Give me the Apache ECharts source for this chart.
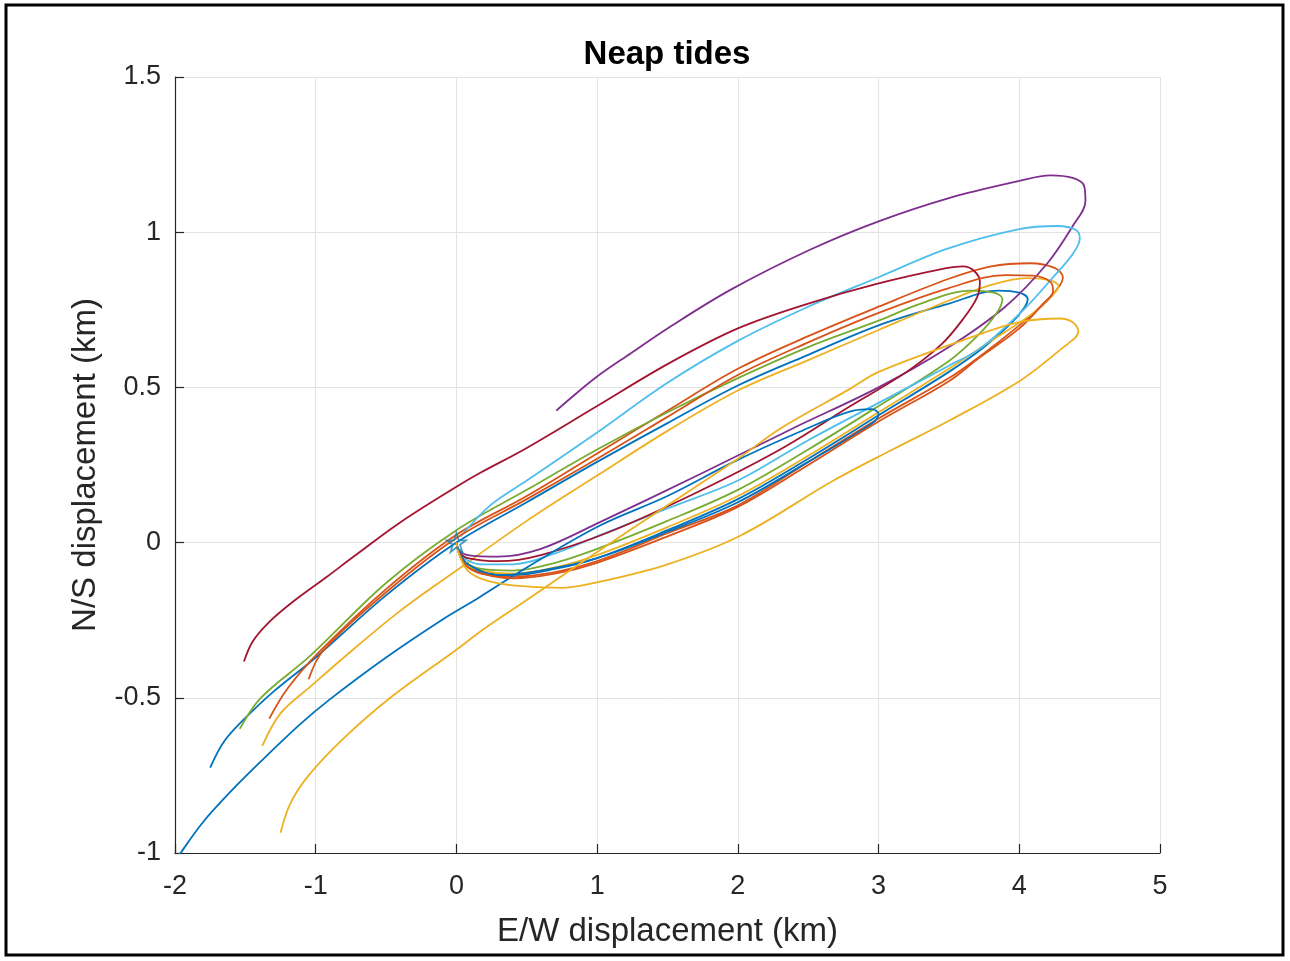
<!DOCTYPE html>
<html>
<head>
<meta charset="utf-8">
<script src="https://cdn.jsdelivr.net/npm/echarts@6/dist/echarts.min.js"></script>
<style>
html,body{margin:0;padding:0;background:#fff}
#chart{width:1290px;height:961px}
</style>
</head>
<body>
<div id="chart"></div>
<script>
// Drifter tracks over neap tides, E/W and N/S displacement in km, all released at the origin
var track1 = [[0,0],[0.02,-0.035],[0.07,-0.07],[0.18,-0.095],[0.4,-0.105],[0.7,-0.085],[1.0,-0.05],[1.5,0.04],[2.0,0.14],[2.5,0.27],[3.0,0.41],[3.5,0.55],[3.75,0.63],[3.95,0.71],[4.04,0.76],[4.06,0.785],[4.0,0.805],[3.85,0.812],[3.5,0.77],[3.0,0.70],[2.5,0.605],[2.0,0.506],[1.5,0.385],[1.0,0.26],[0.5,0.13],[0,0.0],[-0.5,-0.17],[-1.0,-0.37],[-1.3,-0.48],[-1.5,-0.565],[-1.65,-0.64],[-1.75,-0.725]];
var track2 = [[0,0],[0.02,-0.035],[0.07,-0.075],[0.18,-0.1],[0.4,-0.11],[0.7,-0.095],[1.0,-0.06],[1.5,0.03],[2.0,0.12],[2.5,0.26],[3.0,0.40],[3.5,0.53],[3.72,0.60],[4.0,0.70],[4.2,0.78],[4.29,0.83],[4.31,0.855],[4.25,0.885],[4.08,0.90],[3.8,0.89],[3.5,0.85],[3.0,0.76],[2.5,0.665],[2.0,0.56],[1.5,0.425],[1.0,0.287],[0.5,0.15],[0,0.025],[-0.5,-0.15],[-0.97,-0.35],[-1.2,-0.47],[-1.33,-0.567]];
var track3 = [[0,0],[0.02,-0.035],[0.07,-0.07],[0.18,-0.09],[0.4,-0.1],[0.7,-0.08],[1.0,-0.04],[1.5,0.05],[2.0,0.15],[2.5,0.28],[3.0,0.42],[3.5,0.56],[3.8,0.65],[4.1,0.74],[4.24,0.8],[4.28,0.825],[4.22,0.845],[4.05,0.852],[3.8,0.83],[3.5,0.78],[3.0,0.685],[2.5,0.588],[2.0,0.49],[1.5,0.36],[1.0,0.216],[0.5,0.07],[0,-0.09],[-0.4,-0.22],[-0.8,-0.37],[-1.04,-0.465],[-1.25,-0.55],[-1.38,-0.655]];
var track4 = [[0,0],[0.02,-0.025],[0.08,-0.04],[0.3,-0.045],[0.6,-0.02],[1.02,0.066],[1.73,0.22],[2.4,0.37],[3.0,0.50],[3.5,0.63],[3.9,0.76],[4.2,0.9],[4.38,1.02],[4.47,1.1],[4.46,1.15],[4.38,1.175],[4.22,1.183],[4.0,1.165],[3.5,1.11],[3.0,1.035],[2.52,0.945],[1.95,0.815],[1.5,0.69],[1.24,0.61],[1.0,0.535],[0.79,0.457],[0.71,0.425]];
var track5 = [[0,0],[0.02,-0.03],[0.07,-0.065],[0.18,-0.085],[0.4,-0.09],[0.7,-0.065],[1.0,-0.02],[1.5,0.07],[2.0,0.17],[2.5,0.30],[3.0,0.44],[3.5,0.585],[3.7,0.665],[3.84,0.74],[3.88,0.785],[3.82,0.805],[3.65,0.812],[3.3,0.77],[3.0,0.715],[2.5,0.63],[2.0,0.53],[1.5,0.42],[1.0,0.30],[0.5,0.17],[0,0.04],[-0.5,-0.13],[-1.04,-0.365],[-1.39,-0.50],[-1.54,-0.60]];
var track6 = [[0,0],[0.02,-0.03],[0.07,-0.055],[0.18,-0.07],[0.4,-0.07],[0.7,-0.035],[1.0,0.02],[1.5,0.11],[2.0,0.20],[2.5,0.33],[3.0,0.45],[3.5,0.57],[3.72,0.625],[4.03,0.75],[4.25,0.86],[4.38,0.93],[4.43,0.98],[4.4,1.008],[4.27,1.02],[4.0,1.01],[3.49,0.947],[3.0,0.855],[2.5,0.76],[2.0,0.65],[1.5,0.515],[1.0,0.355],[0.5,0.2],[0.24,0.12],[0.03,0.02]];
var track7 = [[0,0],[0.02,-0.03],[0.08,-0.05],[0.3,-0.06],[0.6,-0.04],[1.09,0.035],[1.7,0.16],[2.3,0.30],[2.8,0.44],[3.2,0.55],[3.45,0.64],[3.6,0.72],[3.7,0.79],[3.72,0.84],[3.68,0.875],[3.6,0.89],[3.49,0.885],[3.0,0.835],[2.5,0.77],[2.0,0.69],[1.5,0.575],[1.0,0.44],[0.5,0.305],[0.17,0.225],[0,0.18],[-0.4,0.065],[-0.73,-0.045],[-0.92,-0.11],[-1.16,-0.19],[-1.34,-0.26],[-1.45,-0.32],[-1.51,-0.383]];
var track8 = [[0,0],[0.02,-0.03],[0.08,-0.07],[0.3,-0.105],[0.6,-0.09],[1.0,-0.05],[1.5,0.035],[2.0,0.13],[2.5,0.26],[2.8,0.34],[2.97,0.39],[3.0,0.415],[2.95,0.43],[2.82,0.425],[2.44,0.357],[1.97,0.26],[1.5,0.15],[1.02,0.055],[0.5,-0.08],[0.15,-0.18],[-0.09,-0.245],[-0.5,-0.37],[-0.9,-0.505],[-1.11,-0.585],[-1.39,-0.705],[-1.6,-0.8],[-1.8,-0.9],[-1.96,-1.0],[-2.0,-1.03]];
var track9 = [[0,0],[0.02,-0.035],[0.07,-0.075],[0.18,-0.1],[0.4,-0.115],[0.7,-0.1],[1.0,-0.065],[1.5,0.02],[2.0,0.115],[2.5,0.25],[3.0,0.39],[3.5,0.52],[3.7,0.59],[4.0,0.69],[4.17,0.77],[4.24,0.81],[4.22,0.84],[4.1,0.86],[3.9,0.862],[3.5,0.82],[3.0,0.74],[2.5,0.645],[2.0,0.54],[1.5,0.405],[1.0,0.27],[0.5,0.14],[0,0.015],[-0.5,-0.16],[-0.95,-0.35],[-1.05,-0.44]];
var track10 = [[0,0],[0.02,-0.04],[0.08,-0.09],[0.2,-0.12],[0.4,-0.138],[0.74,-0.146],[1.02,-0.126],[1.5,-0.07],[2.02,0.023],[2.68,0.2],[3.1,0.30],[3.51,0.395],[4.0,0.52],[4.3,0.625],[4.42,0.68],[4.38,0.71],[4.29,0.722],[4.0,0.71],[3.63,0.657],[3.0,0.55],[2.8,0.496],[2.3,0.367],[2.0,0.27],[1.5,0.12],[1.0,-0.03],[0.74,-0.11],[0.5,-0.185],[0.19,-0.28],[0,-0.345],[-0.47,-0.5],[-0.8,-0.63],[-1.05,-0.75],[-1.18,-0.84],[-1.25,-0.935]];
var releasePoint = [[0, 0]];

var tracks = [track1, track2, track3, track4, track5, track6, track7, track8, track9, track10];
var palette = ['#0072BD', '#D95319', '#EDB120', '#7E2F8E', '#77AC30', '#4DBEEE', '#A2142F', '#0072BD', '#D95319', '#EDB120'];

var xTicks = [-2, -1, 0, 1, 2, 3, 4, 5];
var yTicks = [-1, -0.5, 0, 0.5, 1, 1.5];

var FONT = '"Liberation Sans", Arial, Helvetica, sans-serif';
var AX = '#262626';

var series = tracks.map(function (t, i) {
  return {
    type: 'line',
    data: t,
    smooth: 0.35,
    showSymbol: false,
    symbol: 'none',
    lineStyle: { color: palette[i], width: 1.8 },
    z: 2 + i
  };
});

series.push({
  type: 'scatter',
  data: releasePoint,
  symbol: 'path://M50,2 L61,36 L97,36 L68,57 L79,92 L50,70 L21,92 L32,57 L3,36 L39,36 Z',
  symbolSize: 19,
  itemStyle: { color: 'rgba(0,0,0,0)', borderColor: '#1b84b0', borderWidth: 1.8 },
  z: 30
});

var chart = echarts.init(document.getElementById('chart'), null, { renderer: 'canvas' });
chart.setOption({
  animation: false,
  backgroundColor: '#ffffff',
  title: {
    text: 'Neap tides',
    left: 662, textAlign: 'center',
    top: 33,
    textStyle: { fontFamily: FONT, fontSize: 33, fontWeight: 'bold', color: '#000' }
  },
  grid: { left: 175, right: 130, top: 77, bottom: 108, containLabel: false, outerBoundsMode: 'none' },
  xAxis: {
    type: 'value',
    min: xTicks[0], max: xTicks[xTicks.length - 1], interval: 1,
    name: 'E/W displacement (km)',
    nameLocation: 'middle', nameGap: 62,
    nameTextStyle: { fontFamily: FONT, fontSize: 33, color: AX },
    axisLine: { show: true, onZero: false, lineStyle: { color: AX, width: 1.2 } },
    axisTick: { show: true, inside: true, length: 9, lineStyle: { color: AX, width: 1.2 } },
    axisLabel: { fontFamily: FONT, fontSize: 27, color: AX, margin: 20 },
    splitLine: { show: true, lineStyle: { color: '#e3e3e3', width: 1 } }
  },
  yAxis: {
    type: 'value',
    min: yTicks[0], max: yTicks[yTicks.length - 1], interval: 0.5,
    name: 'N/S displacement (km)',
    nameLocation: 'middle', nameGap: 73, nameRotate: 90,
    nameTextStyle: { fontFamily: FONT, fontSize: 33, color: AX },
    axisLine: { show: true, onZero: false, lineStyle: { color: AX, width: 1.2 } },
    axisTick: { show: true, inside: true, length: 9, lineStyle: { color: AX, width: 1.2 } },
    axisLabel: { fontFamily: FONT, fontSize: 27, color: AX, margin: 14 },
    splitLine: { show: true, lineStyle: { color: '#e3e3e3', width: 1 } }
  },
  graphic: [{
    type: 'rect',
    shape: { x: 6, y: 5, width: 1277, height: 950 },
    style: { fill: null, stroke: '#000', lineWidth: 3 },
    silent: true
  }],
  series: series
});
</script>
</body>
</html>
